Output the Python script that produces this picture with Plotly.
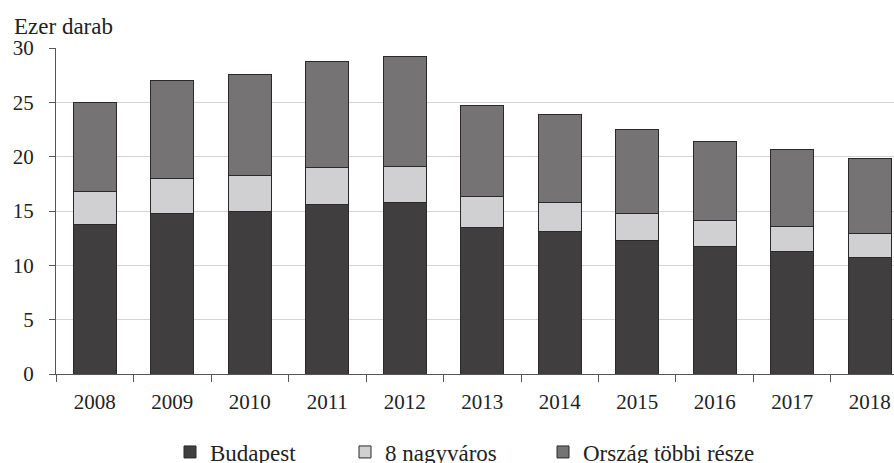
import plotly.graph_objects as go

years = ["2008", "2009", "2010", "2011", "2012", "2013", "2014", "2015", "2016", "2017", "2018"]
budapest = [13.8, 14.75, 15.0, 15.6, 15.8, 13.5, 13.1, 12.3, 11.7, 11.25, 10.75]
nagyvaros = [3.0, 3.2, 3.3, 3.4, 3.3, 2.8, 2.7, 2.5, 2.4, 2.3, 2.2]
tobbi = [8.2, 9.1, 9.3, 9.8, 10.1, 8.4, 8.1, 7.7, 7.3, 7.15, 6.9]
y_ticks = [0, 5, 10, 15, 20, 25, 30]

FONT = "Liberation Serif"
FS = 21
FL = 23
W, H = 894, 463
PW = 838
line = dict(color="#2a2a2a", width=1)

fig = go.Figure()
fig.add_bar(x=years, y=budapest, name="Budapest", marker=dict(color="#403e3f", line=line), legend="legend")
fig.add_bar(x=years, y=nagyvaros, name="8 nagyváros", marker=dict(color="#d0d0d2", line=line), legend="legend2")
fig.add_bar(x=years, y=tobbi, name="Ország többi része", marker=dict(color="#767374", line=line), legend="legend3")

leg_common = dict(orientation="h", xref="container", yref="container", yanchor="middle", y=11 / H,
                  xanchor="left", font=dict(family=FONT, size=FL, color="#222"),
                  bgcolor="rgba(0,0,0,0)", itemwidth=30, tracegroupgap=0)

fig.update_layout(
    barmode="stack",
    bargap=0.444,
    showlegend=True,
    width=W, height=H,
    margin=dict(l=56, r=0, t=48, b=89, autoexpand=False),
    plot_bgcolor="white", paper_bgcolor="white",
    font=dict(family=FONT, size=FS, color="#222"),
    legend=dict(leg_common, x=170 / W),
    legend2=dict(leg_common, x=345 / W),
    legend3=dict(leg_common, x=543 / W),
    xaxis=dict(
        range=[-0.5, 10.313], showline=True, linecolor="#555", linewidth=1,
        ticks="outside", tickson="boundaries", ticklen=7, tickcolor="#555",
        tickfont=dict(family=FONT, size=FS, color="#222"), showgrid=False, automargin=False,
        ticklabelstandoff=9,
    ),
    yaxis=dict(
        range=[0, 30], tickvals=y_ticks, showline=True, linecolor="#555", linewidth=1,
        ticks="outside", ticklen=6, tickcolor="#555", gridcolor="#d4d4d4", gridwidth=1,
        tickfont=dict(family=FONT, size=FS, color="#222"), zeroline=False, automargin=False,
        ticklabelstandoff=11,
    ),
    annotations=[dict(text="Ezer darab", xref="paper", yref="paper", x=-44 / PW,
                      y=1, yshift=22, xanchor="left", yanchor="middle", showarrow=False,
                      font=dict(family=FONT, size=FL, color="#222"))],
)

fig.write_html(
    "out.html",
    config={"displayModeBar": False},
    post_script="document.body.style.margin='0';document.documentElement.style.overflow='hidden';",
)
